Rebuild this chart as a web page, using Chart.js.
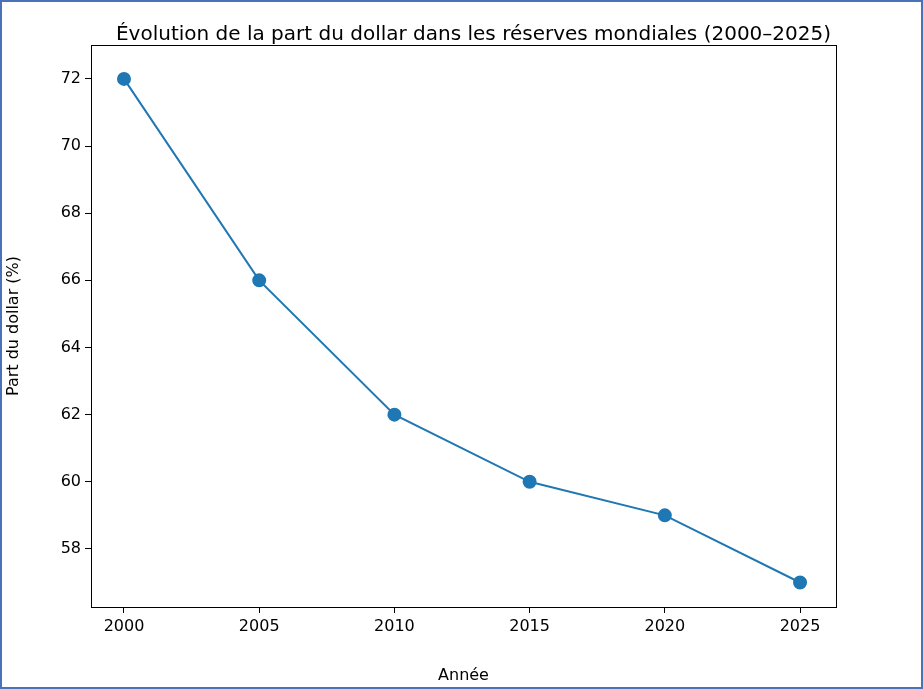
<!DOCTYPE html>
<html><head><meta charset="utf-8">
<script src="https://cdn.jsdelivr.net/npm/chart.js@4"></script>
<style>body{margin:0;background:#fff}canvas{display:block}</style>
</head><body>
<canvas id="c" width="923" height="689"></canvas>
<script>
var years = [2000, 2005, 2010, 2015, 2020, 2025];
var dollarShare = [72, 66, 62, 60, 59, 57];
var yTicks = [58, 60, 62, 64, 66, 68, 70, 72];
var titleText = "Évolution de la part du dollar dans les réserves mondiales (2000–2025)";
var font = "'DejaVu Sans', sans-serif";

var frame = {
  id: 'frame',
  afterDraw: function (chart) {
    var ctx = chart.ctx, a = chart.chartArea;
    ctx.save();
    ctx.strokeStyle = '#000'; ctx.lineWidth = 1;
    ctx.strokeRect(a.left + 0.5, a.top + 0.5, a.right - a.left, a.bottom - a.top);
    ctx.strokeStyle = '#4a72b8'; ctx.lineWidth = 2;
    ctx.strokeRect(1, 1, chart.width - 2, chart.height - 2);
    ctx.fillStyle = '#000'; ctx.font = '20px ' + font;
    ctx.textAlign = 'center'; ctx.textBaseline = 'alphabetic';
    ctx.fillText(titleText, (a.left + a.right) / 2 + 10, 40);
    ctx.restore();
  }
};

new Chart(document.getElementById('c'), {
  type: 'line',
  data: {
    datasets: [{
      data: years.map(function (y, i) { return { x: y, y: dollarShare[i] }; }),
      borderColor: '#1f77b4', backgroundColor: '#1f77b4',
      borderWidth: 2, pointRadius: 6, pointHoverRadius: 6, tension: 0
    }]
  },
  options: {
    responsive: false, animation: false,
    layout: { padding: { top: 45, right: 87, left: 0, bottom: 0 } },
    plugins: { legend: { display: false }, tooltip: { enabled: false } },
    scales: {
      x: {
        type: 'linear', min: 1998.78, max: 2026.33,
        afterBuildTicks: function (s) { s.ticks = years.map(function (v) { return { value: v }; }); },
        afterFit: function (s) { s.height = 82; },
        grid: { drawOnChartArea: false, tickLength: 6, color: '#000' },
        border: { display: false },
        ticks: { color: '#000', font: { family: font, size: 16 }, padding: 4, callback: function (v) { return String(v); } },
        title: { display: true, text: 'Année', color: '#000', font: { family: font, size: 16 }, padding: { top: 2 } }
      },
      y: {
        min: 56.27, max: 73.01,
        afterBuildTicks: function (s) { s.ticks = yTicks.map(function (v) { return { value: v }; }); },
        afterFit: function (s) { s.width = 91; },
        grid: { drawOnChartArea: false, tickLength: 6, color: '#000' },
        border: { display: false },
        ticks: { color: '#000', font: { family: font, size: 16 }, padding: 4 },
        title: { display: true, text: 'Part du dollar (%)', color: '#000', font: { family: font, size: 16 }, padding: { bottom: 4 } }
      }
    }
  },
  plugins: [frame]
});
</script>
</body></html>
